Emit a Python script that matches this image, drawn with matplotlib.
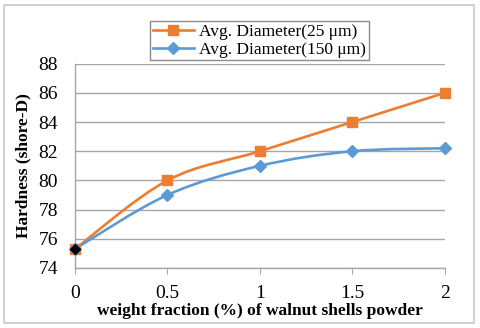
import numpy as np
import matplotlib
matplotlib.use('Agg')
import matplotlib.pyplot as plt
from matplotlib.path import Path
from matplotlib.patches import PathPatch, Rectangle
from matplotlib.lines import Line2D

weight_fraction = [0, 0.5, 1, 1.5, 2]
hardness_25um = [75.3, 80.0, 82.0, 84.0, 86.0]
hardness_150um = [75.3, 79.0, 81.0, 82.0, 82.2]
series_labels = ['Avg. Diameter(25 μm)', 'Avg. Diameter(150 μm)']

ORANGE = '#ED7D31'
BLUE = '#5B9BD5'
GRID = '#a6a6a6'

plt.rcParams['font.family'] = ['Liberation Serif', 'DejaVu Serif']


def smooth_path(xs, ys):
    # Excel-style smoothed line: cubic bezier through every point
    pts = np.column_stack([xs, ys]).astype(float)
    n = len(pts)
    verts = [pts[0]]
    codes = [Path.MOVETO]
    for i in range(n - 1):
        p0 = pts[i - 1] if i > 0 else pts[i]
        p1 = pts[i]
        p2 = pts[i + 1]
        p3 = pts[i + 2] if i + 2 < n else pts[i + 1]
        c1 = p1 + (p2 - p0) / 6.0
        c2 = p2 - (p3 - p1) / 6.0
        verts += [c1, c2, p2]
        codes += [Path.CURVE4] * 3
    return Path(verts, codes)


fig = plt.figure(figsize=(4.8, 3.28), dpi=100)
ax = fig.add_axes([0.156, 0.183, 0.771, 0.623])

for ys, color, marker, ms in [(hardness_25um, ORANGE, 's', 7.5),
                              (hardness_150um, BLUE, 'D', 6)]:
    ax.add_patch(PathPatch(smooth_path(weight_fraction, ys), facecolor='none',
                           edgecolor=color, lw=1.9, zorder=3, clip_on=False))
    ax.plot(weight_fraction, ys, linestyle='none', marker=marker, ms=ms,
            color=color, zorder=4, clip_on=False)

# first point of the 150 um series is drawn in black
ax.plot(weight_fraction[0], hardness_150um[0], marker='D', ms=5.5, color='black',
        linestyle='none', zorder=5, clip_on=False)

ax.set_xlim(0, 2)
ax.set_ylim(74, 88)
ax.set_xticks(weight_fraction)
ax.set_xticklabels(['0', '0.5', '1', '1.5', '2'])
ax.set_yticks(np.arange(74, 89, 2))
ax.grid(axis='y', color=GRID, lw=1)
ax.set_axisbelow(True)
for s in ['top', 'right']:
    ax.spines[s].set_visible(False)
for s in ['left', 'bottom']:
    ax.spines[s].set_color(GRID)
    ax.spines[s].set_linewidth(1)
ax.tick_params(axis='x', length=4, color=GRID, labelsize=14, pad=8)
ax.tick_params(axis='y', length=0, labelsize=14, pad=12)

ax.set_xlabel('weight fraction (%) of walnut shells powder', fontsize=12.5,
              fontweight='bold', labelpad=1)
ax.set_ylabel('Hardness (shore-D)', fontsize=12.5, fontweight='bold', labelpad=5)

handles = [Line2D([], [], color=ORANGE, lw=1.9, marker='s', ms=7.5),
           Line2D([], [], color=BLUE, lw=1.9, marker='D', ms=6)]
leg = fig.legend(handles, series_labels, loc='upper left',
                 bbox_to_anchor=(0.3125, 0.936), bbox_transform=fig.transFigure,
                 fontsize=12.5, fancybox=False, edgecolor='#8c8c8c',
                 handlelength=2.4, handletextpad=0.3, borderpad=0.15,
                 labelspacing=0.1, borderaxespad=0, framealpha=1)
leg.get_frame().set_linewidth(1)

fig.patches.append(Rectangle((4 / 480, 5 / 328), 470 / 480, 318 / 328,
                             transform=fig.transFigure, fill=False,
                             edgecolor='#c8c8c8', lw=1.2))

fig.savefig('out.png', dpi=100)
